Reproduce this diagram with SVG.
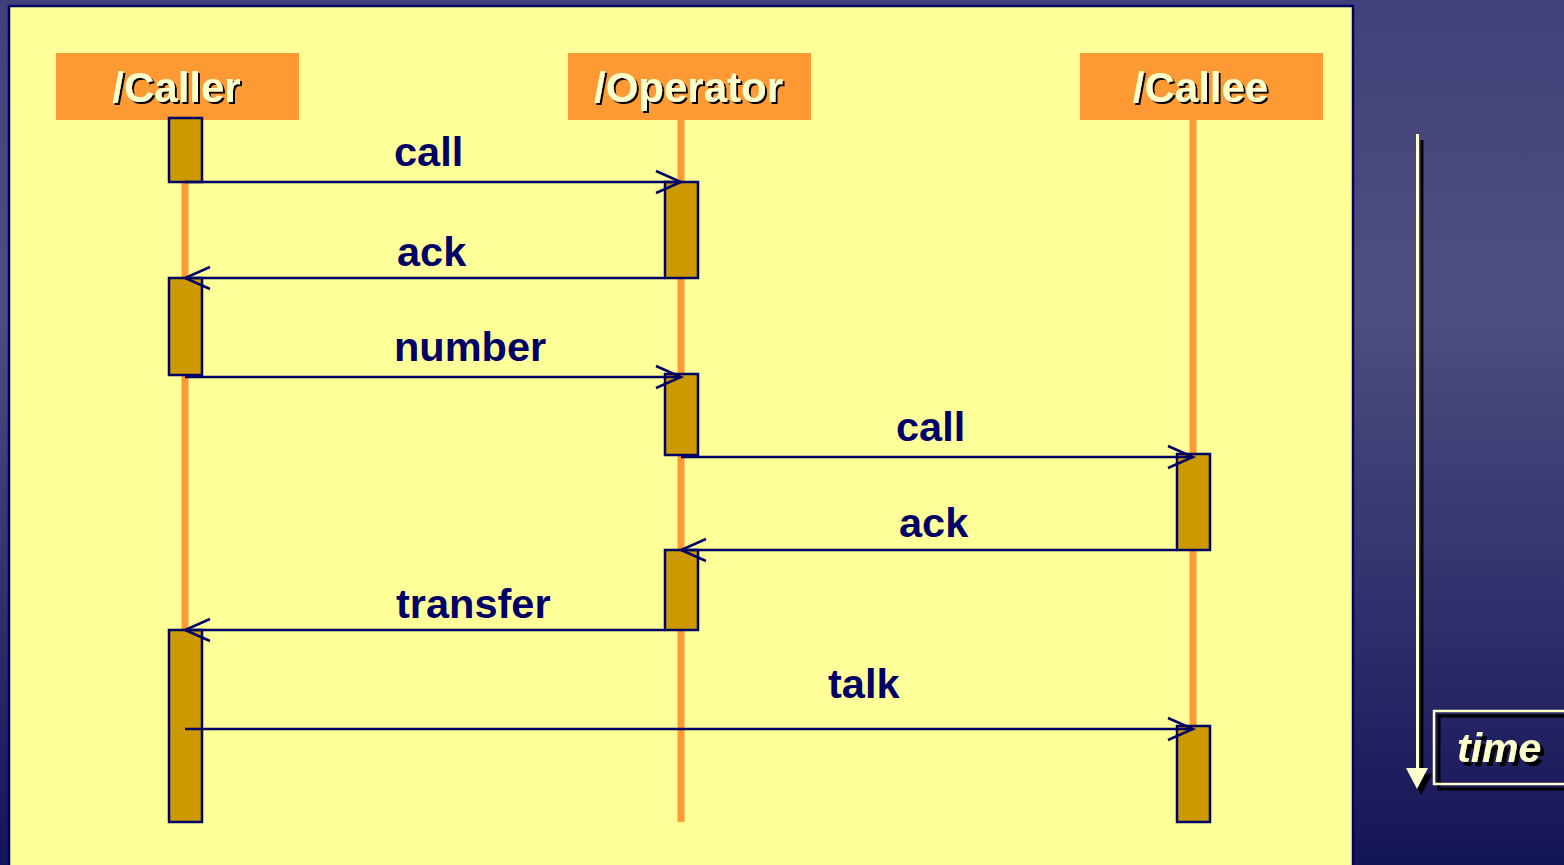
<svg xmlns="http://www.w3.org/2000/svg" width="1564" height="865" viewBox="0 0 1564 865">
  <defs>
    <linearGradient id="bg" x1="0" y1="0" x2="0" y2="1">
      <stop offset="0" stop-color="#41417a"/>
      <stop offset="0.35" stop-color="#4e4e82"/>
      <stop offset="0.7" stop-color="#30306c"/>
      <stop offset="1" stop-color="#141458"/>
    </linearGradient>
    <filter id="shadow2" x="-10%" y="-20%" width="130%" height="150%">
      <feDropShadow dx="2" dy="2" stdDeviation="0" flood-color="#000000" flood-opacity="1"/>
    </filter>
    <filter id="shadow4" x="-10%" y="-20%" width="130%" height="150%">
      <feDropShadow dx="4" dy="4" stdDeviation="0" flood-color="#000000" flood-opacity="1"/>
    </filter>
    <marker id="open" markerUnits="userSpaceOnUse" markerWidth="32" markerHeight="28" viewBox="-29 -14 32 28" refX="0" refY="0" orient="auto">
      <path d="M -25 -11 L 0 0 L -25 11" fill="none" stroke="#000066" stroke-width="2.5"/>
    </marker>
    <style>
      .head { fill: #ff9933; }
      .headtxt { font-family: "Liberation Sans", Arial, sans-serif; font-weight: bold; font-size: 42px; text-anchor: middle; fill: #ffffcc; filter: url(#shadow2); }
      .life { stroke: #ff9933; stroke-width: 7; }
      .act { fill: #cc9900; stroke: #000066; stroke-width: 2.5; }
      .msg { stroke: #000066; stroke-width: 2.5; fill: none; marker-end: url(#open); }
      .lbl { font-family: "Liberation Sans", Arial, sans-serif; font-weight: bold; font-size: 41.5px; fill: #000066; }
      .timetxt { font-family: "Liberation Sans", Arial, sans-serif; font-weight: bold; font-style: italic; font-size: 41px; fill: #ffffcc; filter: url(#shadow4); }
    </style>
  </defs>

  <!-- slide background -->
  <rect x="0" y="0" width="1564" height="865" fill="url(#bg)"/>

  <!-- diagram panel -->
  <rect x="9" y="6" width="1344" height="880" fill="#ffff99" stroke="#000066" stroke-width="2.5"/>

  <!-- lifelines -->
  <g id="lifelines">
    <line class="life" x1="185" y1="120" x2="185" y2="822"/>
    <line class="life" x1="681" y1="120" x2="681" y2="822"/>
    <line class="life" x1="1193" y1="120" x2="1193" y2="822"/>
  </g>

  <g id="caller">
    <rect class="head" x="56" y="53" width="243" height="67"/>
    <text class="headtxt" x="176.5" y="102">/Caller</text>
    <rect class="act" x="169" y="118" width="33" height="64"/>
    <rect class="act" x="169" y="278" width="33" height="97"/>
    <rect class="act" x="169" y="630" width="33" height="192"/>
  </g>

  <g id="operator">
    <rect class="head" x="568" y="53" width="243" height="67"/>
    <text class="headtxt" x="688.5" y="102">/Operator</text>
    <rect class="act" x="665" y="182" width="33" height="96"/>
    <rect class="act" x="665" y="374" width="33" height="81"/>
    <rect class="act" x="665" y="550" width="33" height="80"/>
  </g>

  <g id="callee">
    <rect class="head" x="1080" y="53" width="243" height="67"/>
    <text class="headtxt" x="1200.5" y="102">/Callee</text>
    <rect class="act" x="1177" y="454" width="33" height="96"/>
    <rect class="act" x="1177" y="726" width="33" height="96"/>
  </g>

  <!-- messages -->
  <g id="connectors">
    <line class="msg" x1="185" y1="182" x2="681" y2="182"/>
    <line class="msg" x1="665" y1="278" x2="185" y2="278"/>
    <line class="msg" x1="185" y1="377" x2="681" y2="377"/>
    <line class="msg" x1="681" y1="457" x2="1193" y2="457"/>
    <line class="msg" x1="1177" y1="550" x2="681" y2="550"/>
    <line class="msg" x1="665" y1="630" x2="185" y2="630"/>
    <line class="msg" x1="185" y1="729" x2="1193" y2="729"/>
  </g>

  <g id="labels">
    <text class="lbl" x="394" y="166">call</text>
    <text class="lbl" x="397" y="266">ack</text>
    <text class="lbl" x="394" y="361">number</text>
    <text class="lbl" x="896" y="441">call</text>
    <text class="lbl" x="899" y="537">ack</text>
    <text class="lbl" x="396" y="618">transfer</text>
    <text class="lbl" x="828" y="698">talk</text>
  </g>

  <!-- time axis -->
  <g id="time-axis">
    <line x1="1422" y1="140" x2="1422" y2="776" stroke="#000000" stroke-width="3"/>
    <polygon points="1410,774 1432,774 1421,795" fill="#000000"/>
    <line x1="1417.5" y1="134" x2="1417.5" y2="770" stroke="#ffffcc" stroke-width="3"/>
    <polygon points="1406,768 1428,768 1417,789" fill="#ffffcc"/>
  </g>

  <g id="time-label">
    <rect x="1439" y="716" width="140" height="73" fill="none" stroke="#000000" stroke-width="3"/>
    <rect x="1434" y="711" width="140" height="73" fill="none" stroke="#ffffcc" stroke-width="2.5"/>
    <text class="timetxt" x="1457" y="762">time</text>
  </g>
</svg>
